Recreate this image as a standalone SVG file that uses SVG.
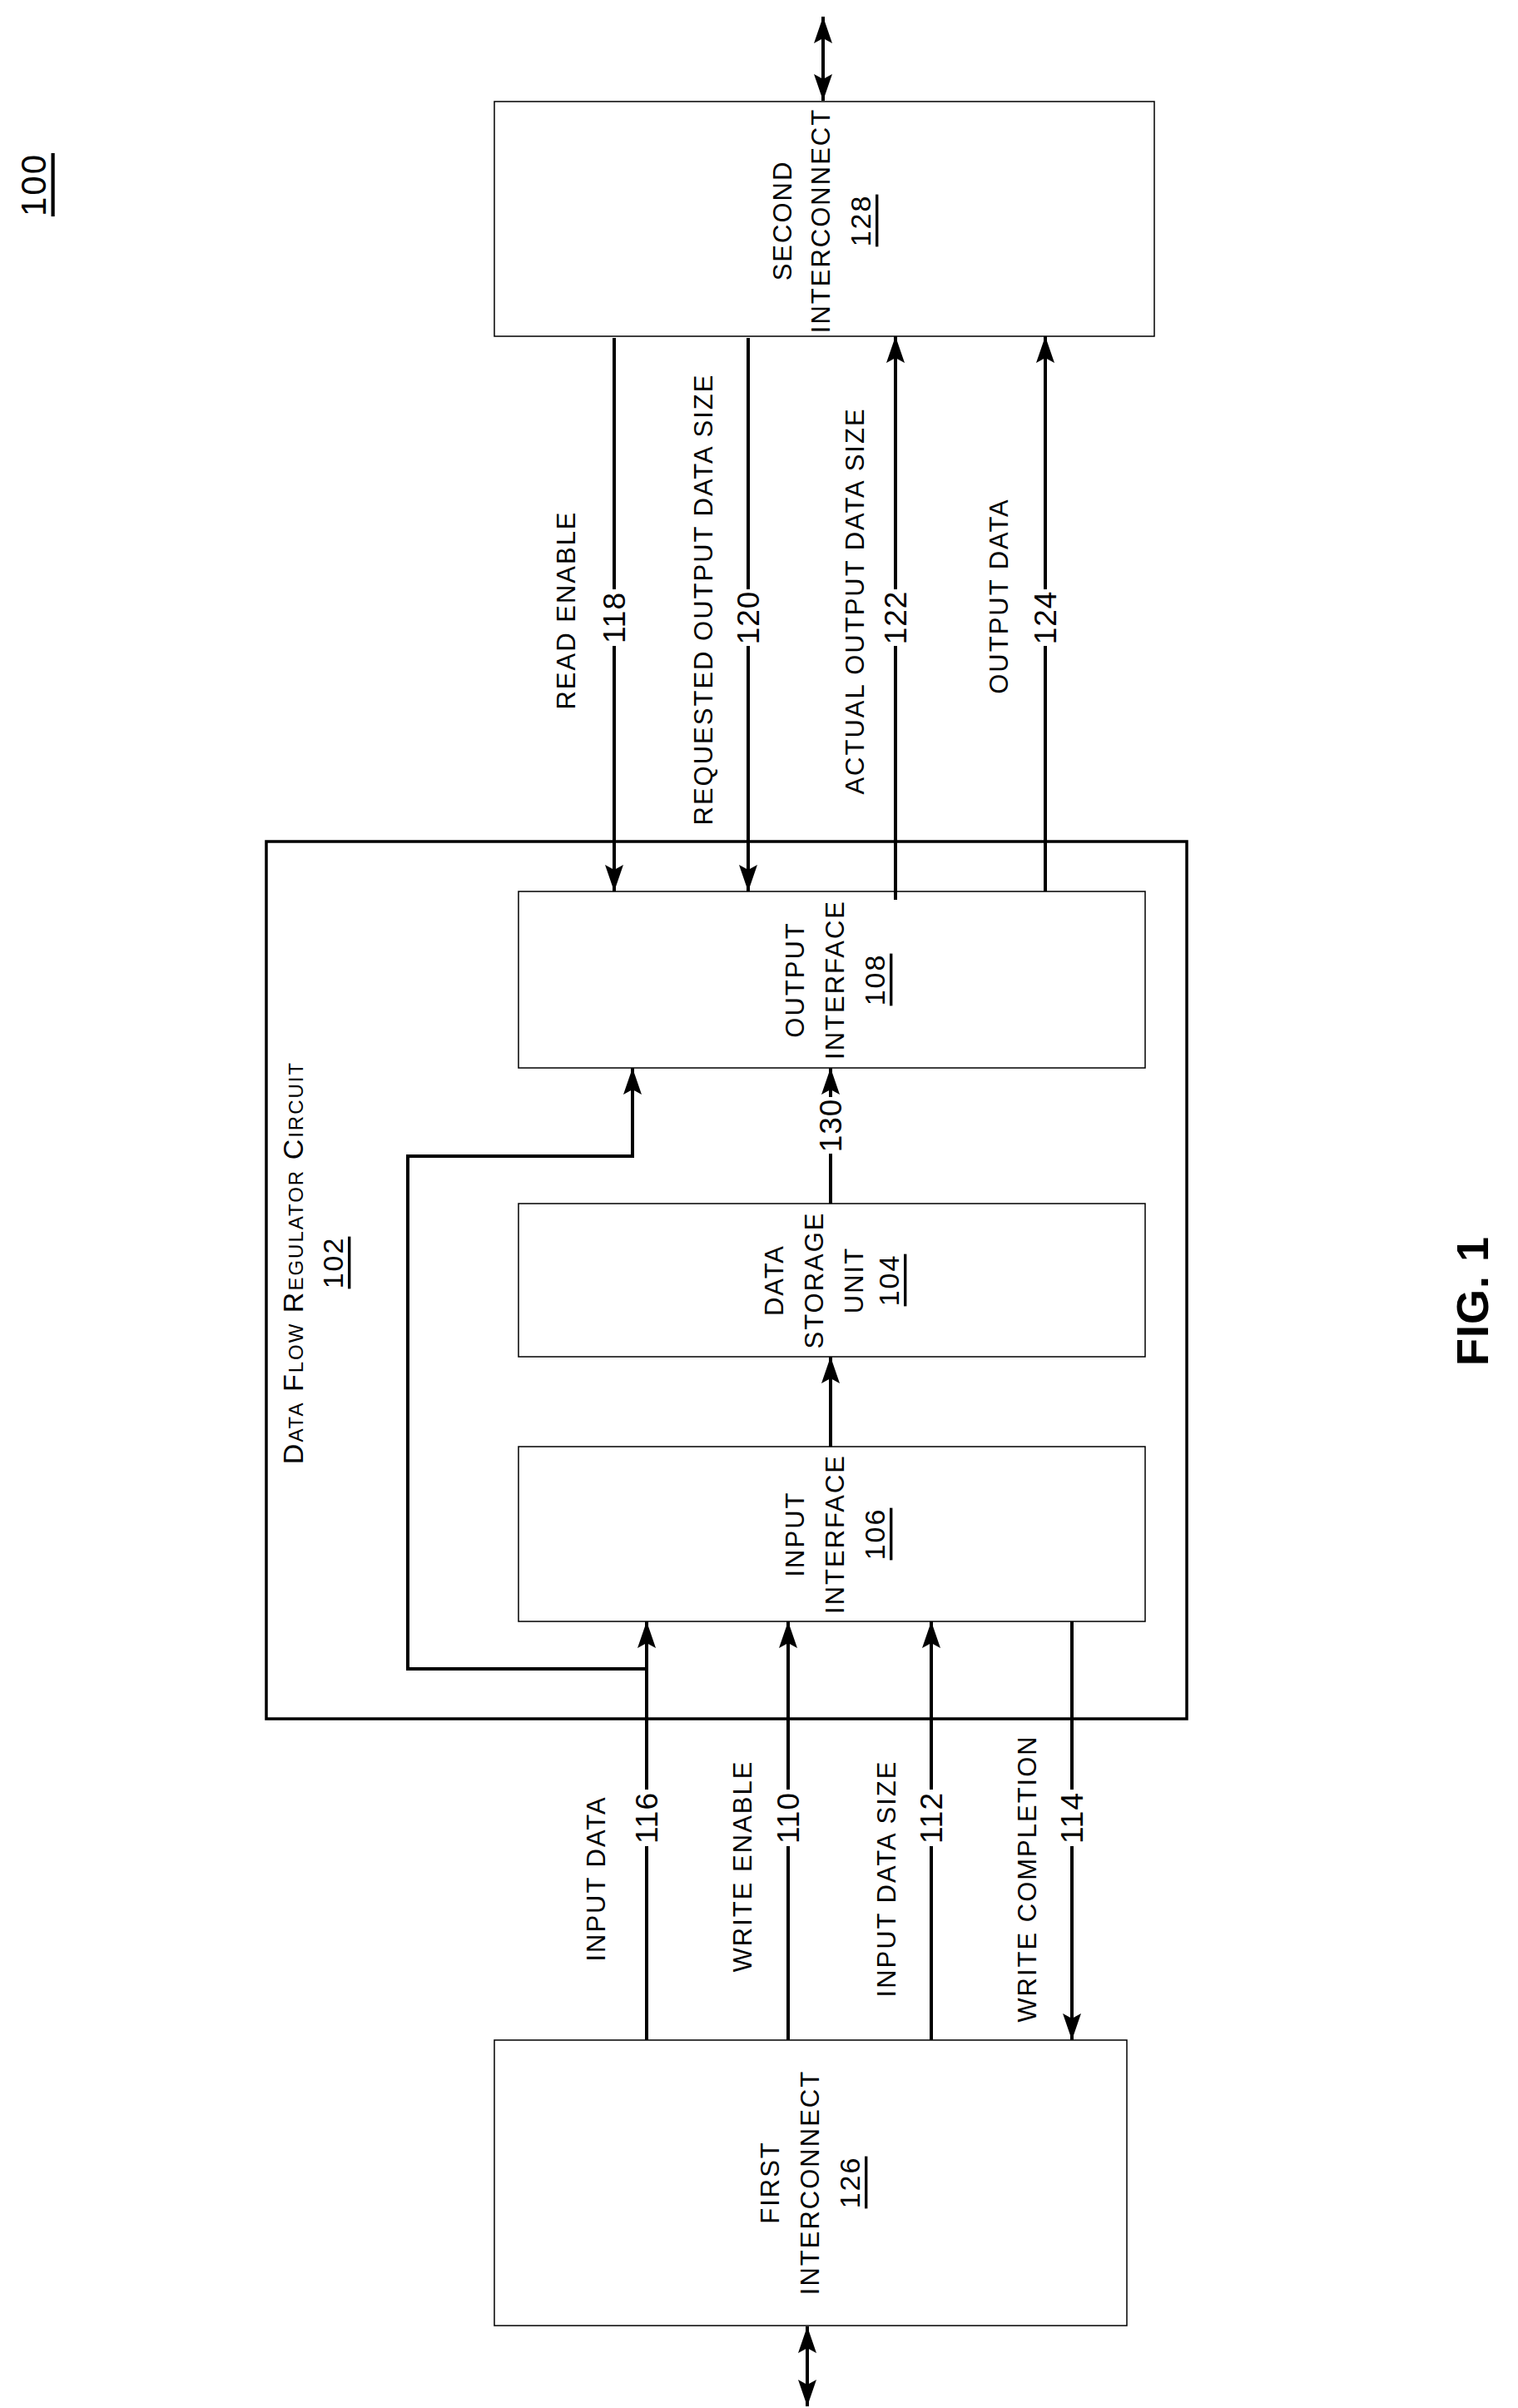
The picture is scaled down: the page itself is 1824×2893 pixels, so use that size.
<svg xmlns="http://www.w3.org/2000/svg" width="1824" height="2893" viewBox="0 0 1824 2893">
<style>
.box{fill:#fff;stroke:#000;stroke-width:1.5}
.outer{fill:none;stroke:#000;stroke-width:3.5}
.w{fill:none;stroke:#000;stroke-width:4}
.bg{fill:#fff}
text{font-family:"Liberation Sans",Arial,sans-serif;font-size:31px;letter-spacing:2px;text-anchor:middle;dominant-baseline:central;fill:#000}
.num{font-size:37px;letter-spacing:1px}
.u{text-decoration:underline}
</style>
<defs>
<marker id="ah" viewBox="0 0 32 22" refX="32" refY="11" markerWidth="32" markerHeight="22" markerUnits="userSpaceOnUse" orient="auto-start-reverse">
<path d="M0,0 L32,11 L0,22 L6,11 z" fill="#000"/>
</marker>
</defs>
<text class="u" transform="translate(40,222) rotate(-90)" style="font-size:42px">100</text>
<text transform="translate(1769,1563) rotate(-90)" style="font-size:54px;font-weight:bold;letter-spacing:1px">FIG. 1</text>

<g id="dfr">
<rect class="outer" x="320" y="1011" width="1106" height="1054"/>
<text transform="translate(352,1517) rotate(-90)" style="font-variant:small-caps;font-size:34px">Data Flow Regulator Circuit</text>
<text class="u" transform="translate(400,1517) rotate(-90)" style="font-size:34px">102</text>
</g>
<g id="second">
<rect class="box" x="594" y="122" width="793" height="282"/>
<text transform="translate(940,265) rotate(-90)">SECOND</text>
<text transform="translate(986,265) rotate(-90)">INTERCONNECT</text>
<text class="u" transform="translate(1034,265) rotate(-90)" style="font-size:34px">128</text>
</g>
<g id="output">
<rect class="box" x="623" y="1071" width="753" height="212"/>
<text transform="translate(955,1177) rotate(-90)">OUTPUT</text>
<text transform="translate(1003,1177) rotate(-90)">INTERFACE</text>
<text class="u" transform="translate(1051,1177) rotate(-90)" style="font-size:34px">108</text>
</g>
<g id="storage">
<rect class="box" x="623" y="1446" width="753" height="184"/>
<text transform="translate(930,1538) rotate(-90)">DATA</text>
<text transform="translate(978,1538) rotate(-90)">STORAGE</text>
<text transform="translate(1026,1538) rotate(-90)">UNIT</text>
<text class="u" transform="translate(1068,1538) rotate(-90)" style="font-size:34px">104</text>
</g>
<g id="input">
<rect class="box" x="623" y="1738" width="753" height="210"/>
<text transform="translate(955,1843) rotate(-90)">INPUT</text>
<text transform="translate(1003,1843) rotate(-90)">INTERFACE</text>
<text class="u" transform="translate(1051,1843) rotate(-90)" style="font-size:34px">106</text>
</g>
<g id="first">
<rect class="box" x="594" y="2451" width="760" height="343"/>
<text transform="translate(925,2622) rotate(-90)">FIRST</text>
<text transform="translate(973,2622) rotate(-90)">INTERCONNECT</text>
<text class="u" transform="translate(1021,2622) rotate(-90)" style="font-size:34px">126</text>
</g>

<g id="connectors">
<line class="w" x1="989" y1="20" x2="989" y2="121" marker-start="url(#ah)" marker-end="url(#ah)"/>
<line class="w" x1="970" y1="2795" x2="970" y2="2891" marker-start="url(#ah)" marker-end="url(#ah)"/>
<line class="w" x1="738" y1="406" x2="738" y2="1071" marker-end="url(#ah)"/>
<line class="w" x1="899" y1="406" x2="899" y2="1071" marker-end="url(#ah)"/>
<line class="w" x1="1076" y1="1081" x2="1076" y2="404" marker-end="url(#ah)"/>
<line class="w" x1="1256" y1="1071" x2="1256" y2="404" marker-end="url(#ah)"/>
<line class="w" x1="998" y1="1446" x2="998" y2="1283" marker-end="url(#ah)"/>
<line class="w" x1="998" y1="1738" x2="998" y2="1630" marker-end="url(#ah)"/>
<polyline class="w" points="777,2005 490,2005 490,1389 760,1389 760,1283" marker-end="url(#ah)"/>
<line class="w" x1="777" y1="2451" x2="777" y2="1948" marker-end="url(#ah)"/>
<line class="w" x1="947" y1="2451" x2="947" y2="1948" marker-end="url(#ah)"/>
<line class="w" x1="1119" y1="2451" x2="1119" y2="1948" marker-end="url(#ah)"/>
<line class="w" x1="1288" y1="1948" x2="1288" y2="2451" marker-end="url(#ah)"/>
</g>
<g id="labels">
<text transform="translate(680,733) rotate(-90)">READ ENABLE</text>
<rect class="bg" x="722" y="708" width="32" height="68"/>
<text class="num" transform="translate(738,742) rotate(-90)">118</text>
<text transform="translate(845,720) rotate(-90)">REQUESTED OUTPUT DATA SIZE</text>
<rect class="bg" x="883" y="708" width="32" height="68"/>
<text class="num" transform="translate(899,742) rotate(-90)">120</text>
<text transform="translate(1027,722) rotate(-90)">ACTUAL OUTPUT DATA SIZE</text>
<rect class="bg" x="1060" y="708" width="32" height="68"/>
<text class="num" transform="translate(1076,742) rotate(-90)">122</text>
<text transform="translate(1200,716) rotate(-90)">OUTPUT DATA</text>
<rect class="bg" x="1240" y="708" width="32" height="68"/>
<text class="num" transform="translate(1256,742) rotate(-90)">124</text>
<rect class="bg" x="982" y="1318" width="32" height="68"/>
<text class="num" transform="translate(998,1352) rotate(-90)">130</text>
<text transform="translate(716,2257) rotate(-90)">INPUT DATA</text>
<rect class="bg" x="761" y="2150" width="32" height="68"/>
<text class="num" transform="translate(777,2184) rotate(-90)">116</text>
<text transform="translate(892,2242) rotate(-90)">WRITE ENABLE</text>
<rect class="bg" x="931" y="2150" width="32" height="68"/>
<text class="num" transform="translate(947,2184) rotate(-90)">110</text>
<text transform="translate(1065,2257) rotate(-90)">INPUT DATA SIZE</text>
<rect class="bg" x="1103" y="2150" width="32" height="68"/>
<text class="num" transform="translate(1119,2184) rotate(-90)">112</text>
<text transform="translate(1234,2257) rotate(-90)">WRITE COMPLETION</text>
<rect class="bg" x="1272" y="2150" width="32" height="68"/>
<text class="num" transform="translate(1288,2184) rotate(-90)">114</text>
</g>
</svg>
